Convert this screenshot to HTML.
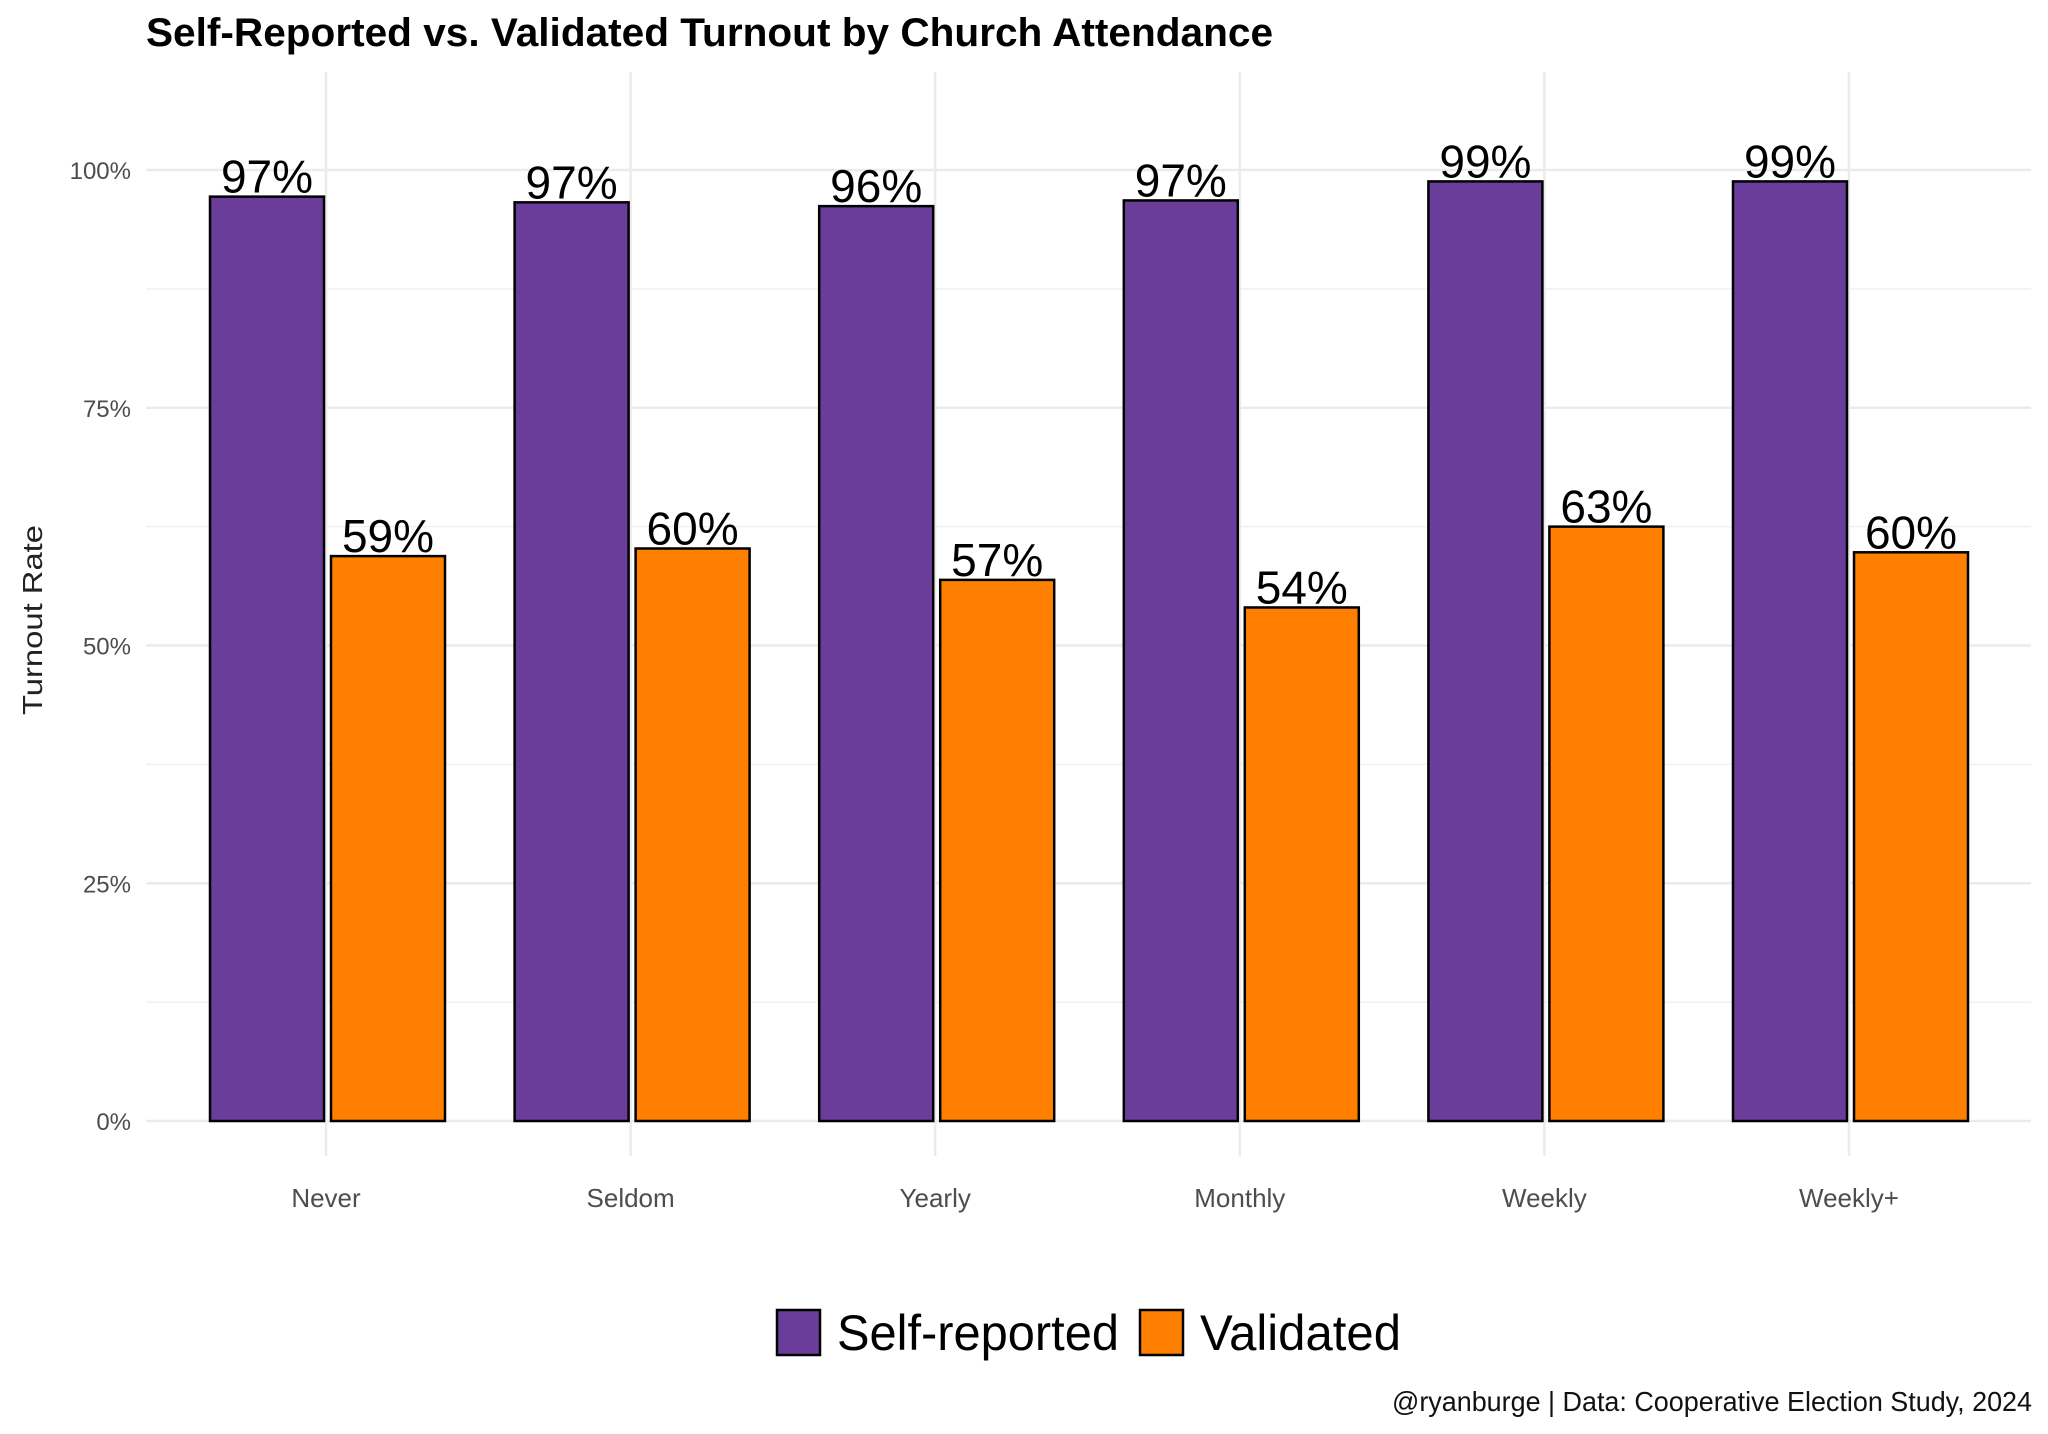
<!DOCTYPE html>
<html><head><meta charset="utf-8"><style>html,body{margin:0;padding:0;background:#fff}svg{display:block}</style></head>
<body>
<svg id="chart" width="2048" height="1434" xmlns="http://www.w3.org/2000/svg" font-family="Liberation Sans, sans-serif">
<rect width="2048" height="1434" fill="#fff"/>
<text x="146" y="46" font-size="40" font-weight="bold" textLength="1127" lengthAdjust="spacingAndGlyphs">Self-Reported vs. Validated Turnout by Church Attendance</text>
<g id="grid"></g>
<g id="bars"></g>
<g id="labels"></g>
<text transform="translate(42,620) rotate(-90)" text-anchor="middle" font-size="28" fill="#222" textLength="190" lengthAdjust="spacingAndGlyphs">Turnout Rate</text>
<g>
<rect x="777" y="1310" width="43" height="45" fill="#6a3d9a" stroke="#000" stroke-width="2.5"/>
<text x="837" y="1350" font-size="50" textLength="282" lengthAdjust="spacingAndGlyphs">Self-reported</text>
<rect x="1140" y="1310" width="43" height="45" fill="#ff7f00" stroke="#000" stroke-width="2.5"/>
<text x="1200" y="1350" font-size="50" textLength="201" lengthAdjust="spacingAndGlyphs">Validated</text>
</g>
<text x="2032" y="1411" text-anchor="end" font-size="28" fill="#111" textLength="640" lengthAdjust="spacingAndGlyphs">@ryanburge | Data: Cooperative Election Study, 2024</text>
</svg>
<script>
const categories = ["Never","Seldom","Yearly","Monthly","Weekly","Weekly+"];
const selfReported = [97.2,96.6,96.2,96.8,98.8,98.8];
const validated = [59.4,60.2,56.9,54.0,62.5,59.8];
const yTicks = [0,25,50,75,100];
const yTickLabels = ["0%","25%","50%","75%","100%"];

const NS="http://www.w3.org/2000/svg";
const y0=1121, y100=170, xLeft=146, xRight=2031, gridTop=72, gridBottom=1156;
const yScale=v=>y0-(y0-y100)*v/100;
const xScale=i=>326+i*304.6;
function mk(tag,attrs,parent){const e=document.createElementNS(NS,tag);for(const k in attrs)e.setAttribute(k,attrs[k]);parent.appendChild(e);return e;}
const grid=document.getElementById('grid'),bars=document.getElementById('bars'),labels=document.getElementById('labels');
for(let i=0;i<yTicks.length-1;i++){
  const m=(yTicks[i]+yTicks[i+1])/2;
  const l=mk('line',{x1:xLeft,x2:xRight,y1:yScale(m),y2:yScale(m),stroke:'#f0f0f0','stroke-width':1.5},grid);
  
  
}
yTicks.forEach((t,i)=>{
  const l=mk('line',{x1:xLeft,x2:xRight,y1:yScale(t),y2:yScale(t),stroke:'#ebebeb','stroke-width':2.5},grid);
  
  
  const tx=mk('text',{x:131,y:yScale(t)+9,'text-anchor':'end','font-size':24,fill:'#4d4d4d'},grid);
  tx.textContent=yTickLabels[i];
  
  
});
categories.forEach((c,i)=>{
  const x=xScale(i);
  const l=mk('line',{x1:x,x2:x,y1:gridTop,y2:gridBottom,stroke:'#ebebeb','stroke-width':2.5},grid);
  
  
  const tx=mk('text',{x:x,y:1207,'text-anchor':'middle','font-size':26,fill:'#4d4d4d'},labels);
  tx.textContent=c;
  
  
  [[selfReported[i],'#6a3d9a',-116,'bar-self-reported'],[validated[i],'#ff7f00',5,'bar-validated']].forEach(([v,col,off,name])=>{
    const top=yScale(v);
    const r=mk('rect',{x:x+off,y:top,width:114,height:y0-top,fill:col,stroke:'#000','stroke-width':2.5},bars);
    
    
    const lt=mk('text',{x:x+off+57,y:top-4,'text-anchor':'middle','font-size':46,fill:'#000'},labels);
    lt.textContent=Math.round(v)+'%';
    
    
  });
});
</script>
</body></html>
